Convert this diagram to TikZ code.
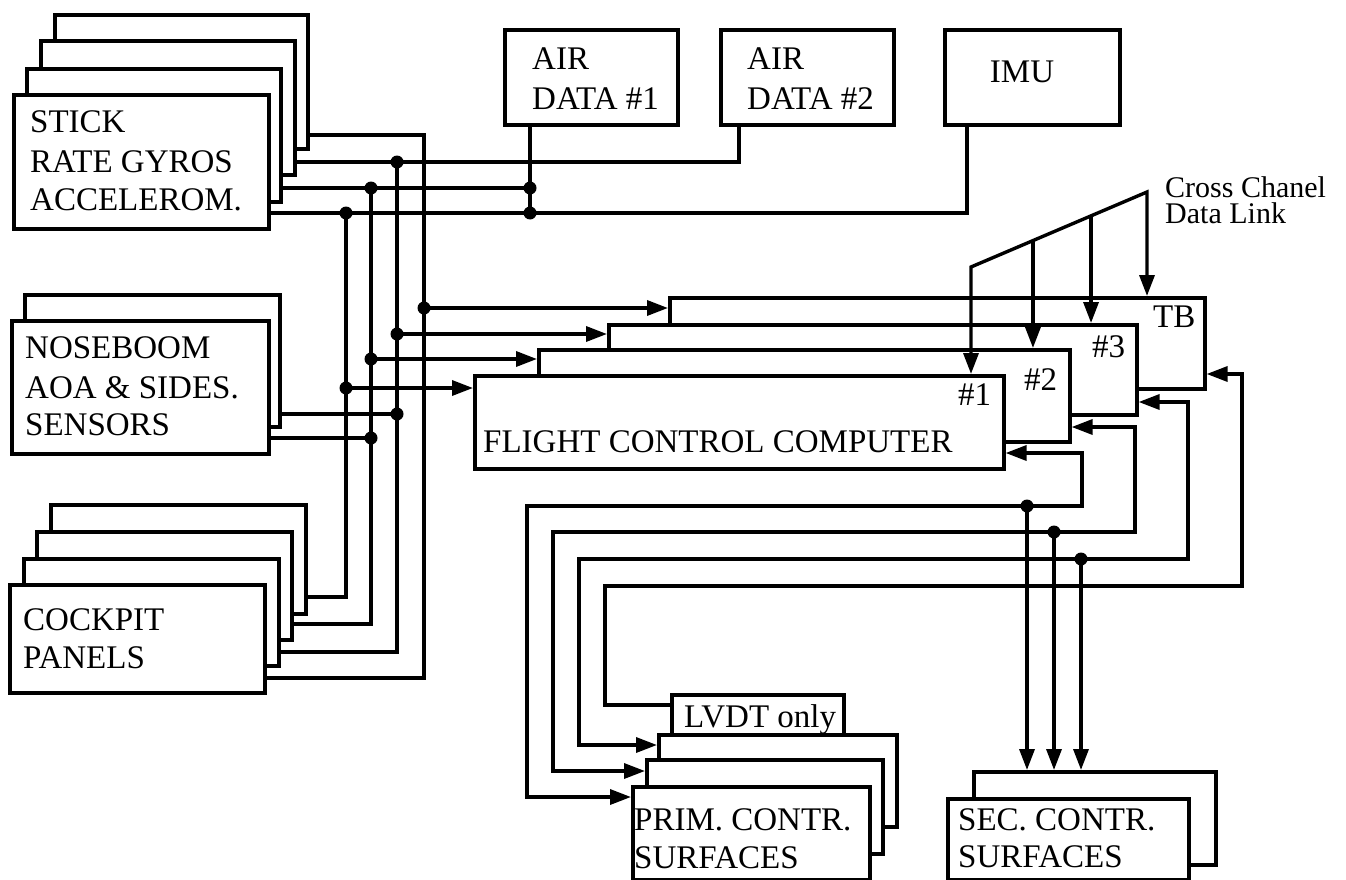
\documentclass[tikz,border=0pt]{standalone}
\usepackage{fontspec}
\setmainfont{Liberation Serif}
\usetikzlibrary{arrows.meta,calc}
\newcommand\mybox[5]{\node[box,minimum width=#4,minimum height=#5] (#1) at (#2,#3) {};}
\begin{document}
\begin{tikzpicture}[x=1pt,y=-1pt,
  box/.style={draw,line width=3.6pt,fill=white,inner sep=0pt,anchor=north west},
  lbl/.style={inner sep=0pt,anchor=base west,font=\fontsize{33}{39}\selectfont},
  ccl/.style={inner sep=0pt,anchor=north west,align=left,font=\fontsize{30}{26}\selectfont},
  wire/.style={line width=3.4pt,line join=miter},
  tip/.tip={Triangle[length=21pt,width=15pt]},
  arr/.style={wire,-tip},
  arrboth/.style={wire,tip-tip},
  dot/.style={circle,fill,inner sep=0pt,minimum size=13pt}]
\useasboundingbox (0,0) rectangle (1346,880);
\fill[white] (0,0) rectangle (1346,880);
% ---- STICK stack
\mybox{s4}{53}{13}{253}{134}
\mybox{s3}{39}{39}{254}{134}
\mybox{s2}{25}{67}{254}{133}
\mybox{s1}{12}{93}{255}{134}
\node[lbl] (ts1) at (30,132) {STICK};
\node[lbl] (ts2) at (30,172) {RATE GYROS};
\node[lbl] (ts3) at (30,210) {ACCELEROM.};
% ---- NOSEBOOM stack
\mybox{n2}{23}{293}{255}{132}
\mybox{n1}{10}{319}{257}{133}
\node[lbl] (tn1) at (25,358) {NOSEBOOM};
\node[lbl] (tn2) at (25,398) {AOA \& SIDES.};
\node[lbl] (tn3) at (25,435) {SENSORS};
% ---- COCKPIT stack
\mybox{c4}{49}{503}{255}{109}
\mybox{c3}{35}{530}{255}{108}
\mybox{c2}{22}{557}{255}{107}
\mybox{c1}{8}{583}{255}{108}
\node[lbl] (tc1) at (23,630) {COCKPIT};
\node[lbl] (tc2) at (23,668) {PANELS};
% ---- sensors on top
\mybox{ad1}{503}{28}{173}{95}
\mybox{ad2}{719}{28}{173}{95}
\mybox{imu}{943}{28}{175}{95}
\node[lbl] (ta1) at (532,70) {AIR};
\node[lbl] (ta2) at (532,110) {DATA \#1};
\node[lbl] (tb1) at (747,70) {AIR};
\node[lbl] (tb2) at (747,110) {DATA \#2};
\node[lbl,anchor=base] (ti) at (1022,83) {IMU};
% ---- FCC stack
\mybox{tb}{668}{296}{535}{91}
\mybox{f3}{607}{323}{528}{90}
\mybox{f2}{537}{348}{531}{92}
\mybox{f1}{473}{374}{529}{93}
\node[lbl] (ttb) at (1153,327) {TB};
\node[lbl] (tf3) at (1092,357) {\#3};
\node[lbl] (tf2) at (1024,390) {\#2};
\node[lbl] (tf1) at (958,405) {\#1};
\node[lbl] (tfcc) at (483,452) {FLIGHT CONTROL COMPUTER};
\node[ccl] (tcc) at (1165,176) {Cross Chanel\\Data Link};
% ---- PRIM stack
\mybox{lvdt}{670}{693}{172}{52}
\node[lbl] (tlv) at (684,727) {LVDT only};
\mybox{p3}{657}{733}{238}{92}
\mybox{p2}{645}{758}{236}{94}
\mybox{p1}{631}{785}{237}{93}
\node[lbl] (tp1) at (634,830) {PRIM. CONTR.};
\node[lbl] (tp2) at (634,868) {SURFACES};
% ---- SEC stack
\mybox{q2}{972}{770}{242}{93}
\mybox{q1}{946}{797}{241}{81}
\node[lbl] (tq1) at (958,830) {SEC. CONTR.};
\node[lbl] (tq2) at (958,867) {SURFACES};
% ---- coordinates
\coordinate (b4t) at (424,135); \coordinate (b4b) at (424,678);
\coordinate (b3t) at (397,162); \coordinate (b3b) at (397,652);
\coordinate (b2t) at (371,188); \coordinate (b2b) at (371,624);
\coordinate (b1t) at (346,213); \coordinate (b1b) at (346,597);
\coordinate (ad2c) at (739,162);
\coordinate (ad1a) at (530,188); \coordinate (ad1b) at (530,213);
\coordinate (imuc) at (967,213);
\coordinate (nb2) at (397,414); \coordinate (nb1) at (371,438);
\coordinate (i4) at (424,308); \coordinate (i3) at (397,334);
\coordinate (i2) at (371,359); \coordinate (i1) at (346,388);
% ---- left bus
\draw[wire] (s4.east |- b4t) -- (b4t) -- (b4b) -- (c1.east |- b4b);
\draw[wire] (s3.east |- b3t) -- (ad2c) -- (ad2c |- ad2.south);
\draw[wire] (b3t) -- (b3b) -- (c2.east |- b3b);
\draw[wire] (s2.east |- b2t) -- (ad1a);
\draw[wire] (b2t) -- (b2b) -- (c3.east |- b2b);
\draw[wire] (s1.east |- b1t) -- (imuc) -- (imuc |- imu.south);
\draw[wire] (b1t) -- (b1b) -- (c4.east |- b1b);
\draw[wire] (ad1a |- ad1.south) -- (ad1b);
\draw[wire] (n2.east |- nb2) -- (nb2);
\draw[wire] (n1.east |- nb1) -- (nb1);
\draw[arr] (i4) -- (i4 -| tb.west);
\draw[arr] (i3) -- (i3 -| f3.west);
\draw[arr] (i2) -- (i2 -| f2.west);
\draw[arr] (i1) -- (i1 -| f1.west);
\foreach \p [count=\k] in {b3t,b2t,b1t,ad1a,ad1b,nb2,nb1,i4,i3,i2,i1}
  \node[dot] (dl\k) at (\p) {};
% ---- cross channel data link
\coordinate (ccA) at (971,267); \coordinate (ccB) at (1147,192);
\coordinate (cc2) at ($(ccA)!0.352!(ccB)$);
\coordinate (cc3) at ($(ccA)!0.682!(ccB)$);
\draw[arrboth] (ccA |- f1.north) -- (ccA) -- (ccB) -- (ccB |- tb.north);
\draw[arr] (cc2) -- (cc2 |- f2.north);
\draw[arr] (cc3) -- (cc3 |- f3.north);
% ---- outputs / feedback
\coordinate (r1t) at (1082,453); \coordinate (r1b) at (1082,506);
\coordinate (l1t) at (527,506);  \coordinate (l1b) at (527,797);
\coordinate (r2t) at (1135,427); \coordinate (r2b) at (1135,532);
\coordinate (l2t) at (553,532);  \coordinate (l2b) at (553,771);
\coordinate (r3t) at (1188,402); \coordinate (r3b) at (1188,559);
\coordinate (l3t) at (579,559);  \coordinate (l3b) at (579,745);
\coordinate (r4t) at (1242,374); \coordinate (r4b) at (1242,586);
\coordinate (l4t) at (605,586);  \coordinate (l4b) at (605,705);
\draw[arrboth] (r1t -| f1.east) -- (r1t) -- (r1b) -- (l1t) -- (l1b) -- (l1b -| p1.west);
\draw[arrboth] (r2t -| f2.east) -- (r2t) -- (r2b) -- (l2t) -- (l2b) -- (l2b -| p2.west);
\draw[arrboth] (r3t -| f3.east) -- (r3t) -- (r3b) -- (l3t) -- (l3b) -- (l3b -| p3.west);
\draw[arr] (l4b -| lvdt.west) -- (l4b) -- (l4t) -- (r4b) -- (r4t) -- (r4t -| tb.east);
\coordinate (sd1) at (1027,506); \coordinate (sd2) at (1054,532); \coordinate (sd3) at (1081,559);
\draw[arr] (sd1) -- (sd1 |- q2.north);
\draw[arr] (sd2) -- (sd2 |- q2.north);
\draw[arr] (sd3) -- (sd3 |- q2.north);
\foreach \p [count=\k] in {sd1,sd2,sd3}
  \node[dot] (dr\k) at (\p) {};
\end{tikzpicture}
\end{document}
